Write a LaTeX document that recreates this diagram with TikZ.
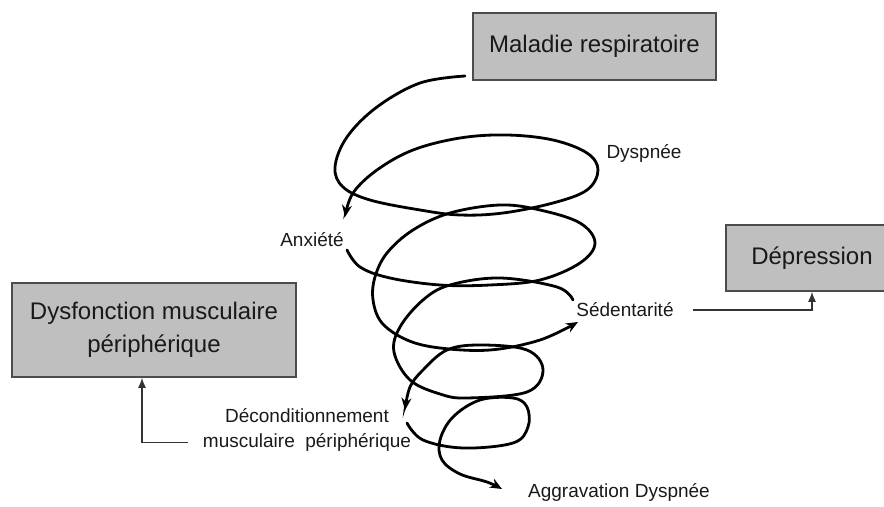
\documentclass[tikz,border=0pt]{standalone}
\usepackage{fontspec}
\setmainfont{Liberation Sans}
\usetikzlibrary{arrows.meta}
\begin{document}
\begin{tikzpicture}[x=0.5pt,y=-0.5pt,
  box/.style={draw=black!70,line width=0.8pt,fill=black!25,text=black!90,align=center,font=\fontsize{12}{16.5}\selectfont},
  lbl/.style={text=black!90,align=center,font=\fontsize{9.5}{12.5}\selectfont},
  spire/.style={line width=1.4pt,line cap=round,-{Stealth[length=6pt,width=5pt]}},
  link/.style={draw=black!80,line width=0.7pt,-{Latex[length=5pt,width=4pt]}}]
  \useasboundingbox (0,0) rectangle (884,507);

  % Boxes
  \node[box,minimum width=86pt,minimum height=33pt] (dep) at (812,258) {Dépression};
  \node[box,minimum width=121.5pt,minimum height=33.5pt] (mal) at (594.5,46.5) {Maladie respiratoire};
  \node[box,minimum width=142pt,minimum height=47pt] (dysf) at (154,330) {Dysfonction musculaire\\périphérique};

  % Labels on the spiral
  \node[lbl] (dys) at (644,153) {Dyspnée};
  \node[lbl] (anx) at (312,240) {Anxiété};
  \node[lbl] (sed) at (625,310) {Sédentarité};
  \node[lbl] (dec) at (307,430) {Déconditionnement\\musculaire\ \ périphérique};
  \node[lbl] (agg) at (619,492) {Aggravation Dyspnée};

  % Spiral
  \draw[spire] plot[smooth,tension=0.6] coordinates {(465,76) (420,83) (377,107) (347,137) (335,167) (343,187) (370,200) (420,210) (460,215) (503,213) (553,203) (587,190) (598,170) (587,153) (553,140) (507,135) (460,138) (413,150) (377,170) (353,193) (345,217)};
  \draw[spire] plot[smooth,tension=0.6] coordinates {(347,250) (360,267) (390,278) (440,285) (490,285) (540,280) (580,263) (595,243) (580,223) (540,210) (500,205) (450,213) (413,230) (387,253) (375,277) (373,300) (382,323) (407,340) (440,348) (490,350) (540,340) (578,322)};
  \draw[spire] plot[smooth,tension=0.6] coordinates {(573,300) (557,287) (500,278) (450,285) (423,300) (400,327) (394,352) (410,380) (440,394) (467,398) (527,392) (543,370) (527,350) (480,345) (447,350) (423,370) (410,387) (405,410)};
  \draw[spire] plot[smooth,tension=0.6] coordinates {(407,423) (423,440) (463,448) (513,443) (528,427) (527,407) (513,398) (480,400) (453,417) (440,440) (442,460) (460,474) (487,482) (502,489)};

  % Links to the side boxes
  \draw[link] ([xshift=6pt]sed.east) -| (dep.south);
  \draw[link] ([xshift=-4pt,yshift=-6.25pt]dec.west) -| ([xshift=-6pt]dysf.south);

\end{tikzpicture}
\end{document}
